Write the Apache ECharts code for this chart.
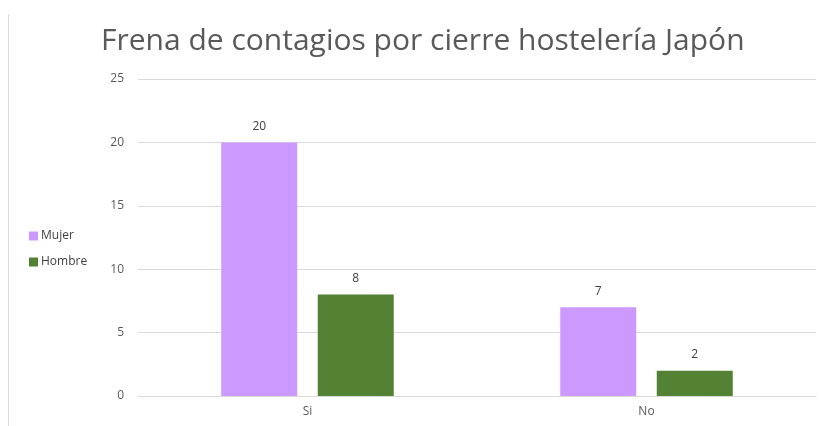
<!DOCTYPE html>
<html>
<head>
<meta charset="utf-8">
<script src="https://cdn.jsdelivr.net/npm/echarts@6/dist/echarts.min.js"></script>
<style>
  html, body { margin: 0; padding: 0; background: #ffffff; }
  #chart { width: 819px; height: 426px; }
</style>
</head>
<body>
<div id="chart"></div>
<script>
// Survey answers split by sex
const categories = ['Si', 'No'];
const mujer = [20, 7];
const hombre = [8, 2];
const yTicks = [0, 5, 10, 15, 20, 25];

const chart = echarts.init(document.getElementById('chart'));

const labelStyle = {
  show: true,
  position: 'top',
  distance: 10,
  color: '#404040',
  fontSize: 12,
  fontFamily: 'Open Sans'
};

chart.setOption({
  animation: false,
  backgroundColor: '#ffffff',
  title: {
    text: 'Frena de contagios por cierre hostelería Japón',
    left: 96,
    top: 21,
    textStyle: {
      color: '#595959',
      fontSize: 30,
      fontWeight: 'normal',
      fontFamily: 'Open Sans'
    }
  },
  legend: {
    orient: 'vertical',
    left: 24,
    top: 225,
    itemWidth: 9,
    itemHeight: 9,
    itemGap: 14,
    icon: 'rect',
    textStyle: { color: '#404040', fontSize: 12, fontFamily: 'Open Sans', padding: [0, 0, 0, -2] },
    data: ['Mujer', 'Hombre']
  },
  grid: { left: 138, right: 3, top: 79, bottom: 30, containLabel: false },
  xAxis: {
    type: 'category',
    data: categories,
    axisLine: { show: true, lineStyle: { color: '#d9d9d9' } },
    axisTick: { show: false },
    axisLabel: { color: '#595959', fontSize: 12, fontFamily: 'Open Sans', margin: 10 }
  },
  yAxis: {
    type: 'value',
    min: yTicks[0],
    max: yTicks[yTicks.length - 1],
    interval: yTicks[1] - yTicks[0],
    axisLine: { show: false },
    axisTick: { show: false },
    axisLabel: { color: '#595959', fontSize: 12, fontFamily: 'Open Sans', margin: 14 },
    splitLine: { lineStyle: { color: '#d9d9d9' } }
  },
  series: [
    {
      name: 'Mujer',
      type: 'bar',
      data: mujer,
      barWidth: 76,
      barGap: '27%',
      itemStyle: { color: '#cc99ff' },
      label: labelStyle
    },
    {
      name: 'Hombre',
      type: 'bar',
      data: hombre,
      barWidth: 76,
      barGap: '27%',
      itemStyle: { color: '#548235' },
      label: labelStyle
    }
  ],
  graphic: [
    {
      type: 'line',
      shape: { x1: 8.5, y1: 14, x2: 8.5, y2: 426 },
      style: { stroke: '#d9d9d9', lineWidth: 1 }
    }
  ]
});
</script>
</body>
</html>
